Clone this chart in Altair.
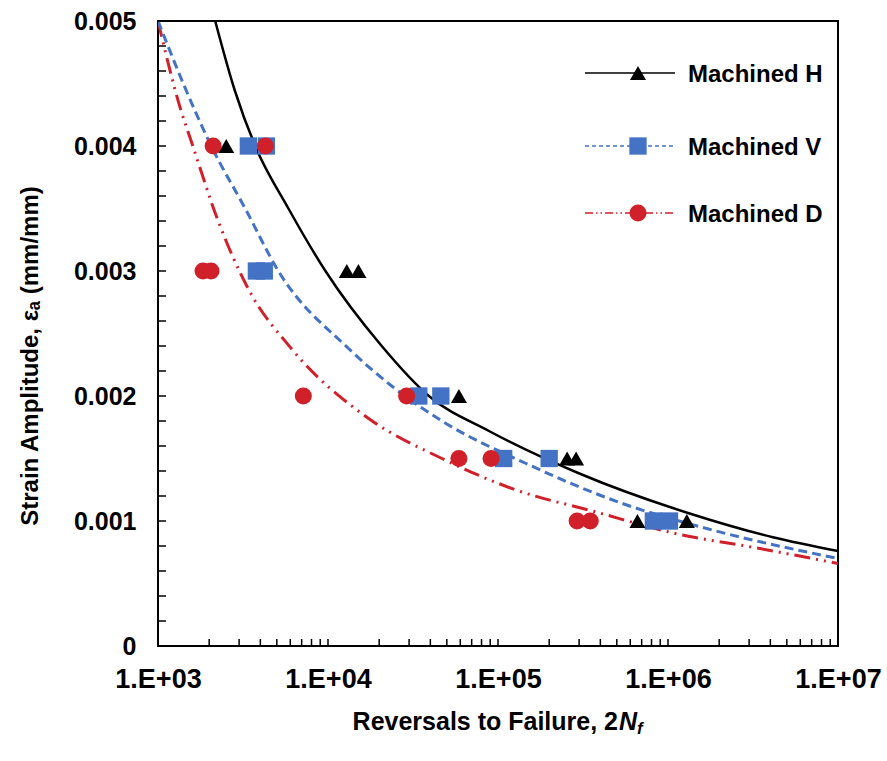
import altair as alt
import pandas as pd

# ---------------- data ----------------
series = ["Machined  H", "Machined  V", "Machined  D"]
colors = ["#000000", "#4472C4", "#D0202A"]
shapes = ["triangle-up", "square", "circle"]

# fitted strain-life curves
fit_H_N = [2170, 2820, 3730, 5850, 9660, 20700, 39200, 88500, 301000, 1340000, 4140000, 10000000]
fit_H_eps = [0.0050, 0.00445, 0.0040, 0.0035, 0.0030, 0.0024, 0.0020, 0.00172, 0.00138, 0.00106, 0.00087, 0.00076]

fit_V_N = [1000, 1652, 2056, 3258, 5105, 13210, 23700, 46800, 146200, 539500, 1687000, 10000000]
fit_V_eps = [0.0050, 0.00428, 0.0040, 0.0035, 0.0030, 0.00238, 0.00208, 0.0018, 0.00146, 0.00114, 0.00094, 0.0007]

fit_D_N = [1000, 1368, 1567, 2259, 3388, 6081, 17340, 46800, 133000, 358900, 1107000, 3467000, 10000000]
fit_D_eps = [0.0050, 0.00428, 0.00404, 0.0034, 0.00286, 0.00238, 0.00182, 0.0015, 0.00124, 0.00108, 0.0009, 0.00078, 0.00066]

# experimental points
pts_H_N = [2520, 12900, 15100, 58900, 255000, 288000, 661000, 1290000]
pts_H_eps = [0.004, 0.003, 0.003, 0.002, 0.0015, 0.0015, 0.001, 0.001]

pts_V_N = [3400, 4340, 3790, 4220, 34200, 46100, 108000, 200000, 820000, 1020000]
pts_V_eps = [0.004, 0.004, 0.003, 0.003, 0.002, 0.002, 0.0015, 0.0015, 0.001, 0.001]

pts_D_N = [2110, 4280, 1840, 2050, 7160, 29000, 58900, 91000, 292000, 349000]
pts_D_eps = [0.004, 0.004, 0.003, 0.003, 0.002, 0.002, 0.0015, 0.0015, 0.001, 0.001]

x_major = [1e3, 1e4, 1e5, 1e6, 1e7]
y_major = [0, 0.001, 0.002, 0.003, 0.004, 0.005]

y_title = "Strain Amplitude, \u03b5\u2090 (mm/mm)"
x_title_main = "Reversals to Failure, 2"
x_title_N = "N"
x_title_sub = "f"

# ---------------- layout ----------------
W, H = 680, 625
FONT = "Liberation Sans"

xs = alt.Scale(type="log", domain=[1e3, 1e7], nice=False)
ys = alt.Scale(domain=[0, 0.005], nice=False, zero=False)

xaxis = alt.Axis(values=x_major,
                 labelExpr="'1.E+0' + round(log(datum.value)/LN10)",
                 ticks=False, tickSize=0, domain=False, grid=False,
                 labelFont=FONT, labelFontSize=27, labelFontWeight="bold",
                 labelColor="black", labelPadding=20, labelFlush=False,
                 labelOverlap=False, title=None)
yaxis = alt.Axis(values=y_major,
                 labelExpr="datum.value == 0 ? '0' : format(datum.value, '.3f')",
                 ticks=False, tickSize=0, domain=False, grid=False,
                 labelFont=FONT, labelFontSize=25, labelFontWeight="bold",
                 labelColor="black", labelPadding=22, labelOverlap=False,
                 title=y_title, titleFont=FONT, titleFontSize=24,
                 titleFontWeight="bold", titleColor="black",
                 titleX=-128, titleY=H / 2 + 22, titleAngle=270,
                 titleAlign="center", titleBaseline="middle")

X = alt.X("N:Q", scale=xs, axis=xaxis)
Y = alt.Y("eps:Q", scale=ys, axis=yaxis)


def df(n, e):
    return pd.DataFrame({"N": n, "eps": e})


fits = [(fit_H_N, fit_H_eps), (fit_V_N, fit_V_eps), (fit_D_N, fit_D_eps)]
pts = [(pts_H_N, pts_H_eps), (pts_V_N, pts_V_eps), (pts_D_N, pts_D_eps)]
dashes = [None, [9, 5], [16, 6, 2, 6, 2, 6]]
widths = [2.5, 3, 3]
sizes = [256, 300, 290]

layers = []
for i in [2, 1, 0]:
    kw = dict(color=colors[i], strokeWidth=widths[i], clip=True,
              interpolate="monotone")
    if dashes[i]:
        kw["strokeDash"] = dashes[i]
    layers.append(alt.Chart(df(*fits[i])).mark_line(**kw).encode(x=X, y=Y))

for i in [1, 0, 2]:
    layers.append(alt.Chart(df(*pts[i])).mark_point(
        shape=shapes[i], size=sizes[i], filled=True, opacity=1,
        color=colors[i], strokeWidth=0).encode(x=X, y=Y))

# inward tick marks
x_ticks = [m * 10 ** e for e in range(3, 7) for m in range(1, 10)] + [1e7]
y_ticks = [k * 0.0002 for k in range(0, 26)]
layers.append(alt.Chart(pd.DataFrame({"N": x_ticks})).mark_rule(
    color="black", strokeWidth=1.5).encode(
    x=X, y=alt.value(H), y2=alt.value(H - 7)))
layers.append(alt.Chart(pd.DataFrame({"eps": y_ticks})).mark_rule(
    color="black", strokeWidth=1.5).encode(
    y=Y, x=alt.value(0), x2=alt.value(8)))

# legend (manual, matching line + marker style)
leg_y = [52, 125, 192]
leg_dash = [None, [4, 3], [8, 3, 1.5, 3, 1.5, 3]]
for i in range(3):
    d = pd.DataFrame({"t": [series[i]]})
    kw = dict(color=colors[i], strokeWidth=1.5)
    if leg_dash[i]:
        kw["strokeDash"] = leg_dash[i]
    layers.append(alt.Chart(d).mark_rule(**kw).encode(
        x=alt.value(427), x2=alt.value(517), y=alt.value(leg_y[i])))
    layers.append(alt.Chart(d).mark_point(
        shape=shapes[i], size=sizes[i], filled=True, opacity=1,
        color=colors[i], strokeWidth=0).encode(
        x=alt.value(480), y=alt.value(leg_y[i])))
    layers.append(alt.Chart(d).mark_text(
        align="left", baseline="middle", font=FONT, fontSize=24,
        fontWeight="bold", color="black").encode(
        x=alt.value(530), y=alt.value(leg_y[i] + 2), text="t:N"))

# x-axis title with italic N and subscript f
layers.append(alt.Chart(pd.DataFrame({"t": [x_title_main]})).mark_text(
    align="right", baseline="middle", font=FONT, fontSize=25,
    fontWeight="bold", color="black").encode(
    x=alt.value(460), y=alt.value(701), text="t:N"))
layers.append(alt.Chart(pd.DataFrame({"t": [x_title_N]})).mark_text(
    align="left", baseline="middle", font=FONT, fontSize=25,
    fontWeight="bold", fontStyle="italic", color="black").encode(
    x=alt.value(461), y=alt.value(701), text="t:N"))
layers.append(alt.Chart(pd.DataFrame({"t": [x_title_sub]})).mark_text(
    align="left", baseline="middle", font=FONT, fontSize=17,
    fontWeight="bold", fontStyle="italic", color="black").encode(
    x=alt.value(479), y=alt.value(708), text="t:N"))

chart = alt.layer(*layers).properties(
    width=W, height=H,
    autosize=alt.AutoSizeParams(type="none"),
    padding={"left": 158, "top": 21, "right": 49, "bottom": 115},
    background="white",
).configure_view(stroke="black", strokeWidth=2)

chart.save("out.html", embed_options={"renderer": "svg", "actions": False})
